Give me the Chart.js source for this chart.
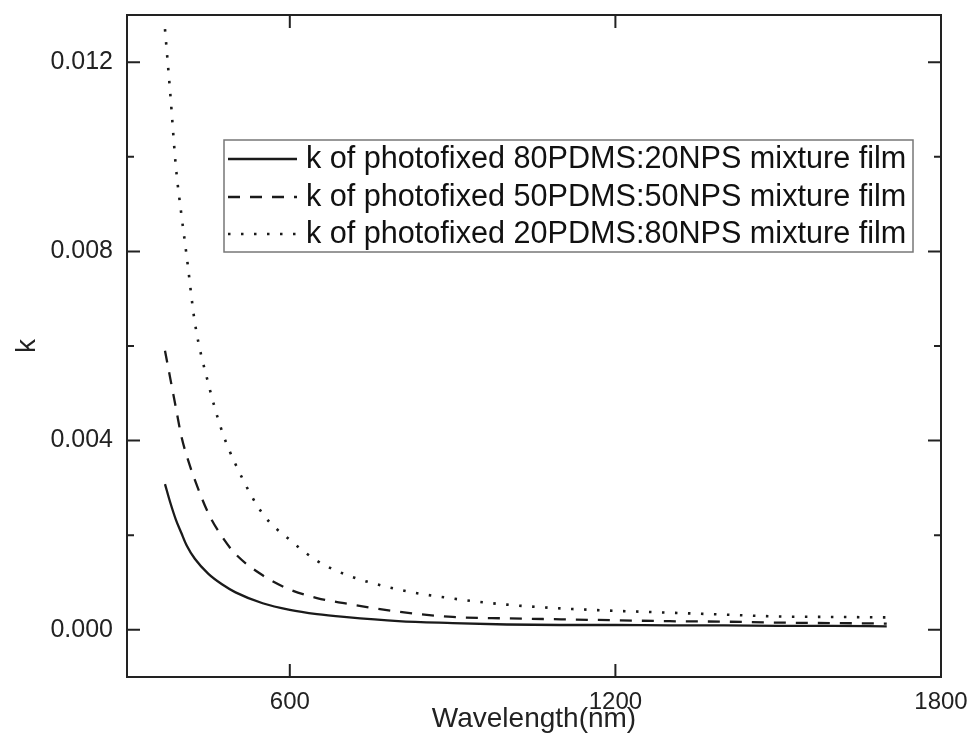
<!DOCTYPE html>
<html>
<head>
<meta charset="utf-8">
<script src="https://cdn.jsdelivr.net/npm/chart.js@4.4.0/dist/chart.umd.min.js"></script>
<style>
html, body { margin: 0; padding: 0; background: #fff; }
</style>
</head>
<body>
<canvas id="kChart" width="974" height="746"></canvas>
<script>
// wavelength (nm) and extinction coefficient k
const wavelengths = [370, 380, 390, 400, 410, 425, 450, 475, 500, 550, 600, 650, 700, 800, 900, 1000, 1100, 1200, 1300, 1400, 1500, 1600, 1700];
const k80 = [0.00308, 0.00268, 0.00233, 0.00205, 0.00178, 0.00150, 0.00118, 0.00096, 0.00079, 0.00056, 0.00042, 0.00033, 0.00027, 0.00018, 0.00014, 0.00011, 0.00010, 0.00010, 0.00009, 0.00009, 0.00008, 0.00008, 0.00007];
const k50 = [0.0059, 0.0053, 0.0047, 0.0041, 0.00368, 0.00317, 0.00246, 0.00197, 0.0016, 0.00115, 0.00085, 0.00067, 0.00056, 0.00038, 0.00027, 0.00024, 0.00022, 0.00020, 0.00018, 0.00017, 0.00015, 0.00014, 0.00013];
const k20 = [0.0127, 0.0113, 0.0098, 0.0088, 0.0079, 0.0065, 0.0052, 0.0042, 0.0035, 0.00245, 0.0019, 0.00146, 0.00118, 0.00085, 0.00066, 0.00053, 0.00045, 0.00040, 0.00036, 0.00032, 0.00028, 0.00027, 0.00026];

const seriesLabels = [
    'k of photofixed 80PDMS:20NPS mixture film',
    'k of photofixed 50PDMS:50NPS mixture film',
    'k of photofixed 20PDMS:80NPS mixture film'
];
const xTicks = [600, 1200, 1800];
const yMajorTicks = [0, 0.004, 0.008, 0.012];
const yMinorTicks = [0.002, 0.006, 0.010];

const FONT = '"Liberation Sans", Arial, Helvetica, sans-serif';

function toPoints(ys) {
    return wavelengths.map((w, i) => ({ x: w, y: ys[i] }));
}

// frame, inward ticks and the boxed legend inside the plot
const frameAndLegend = {
    id: 'frameAndLegend',
    afterDatasetsDraw(chart) {
        const { ctx, chartArea: a, scales: { x, y } } = chart;
        ctx.save();
        ctx.strokeStyle = '#222';
        ctx.lineWidth = 2;
        ctx.strokeRect(a.left, a.top, a.right - a.left, a.bottom - a.top);
        ctx.beginPath();
        xTicks.forEach(v => {
            const px = x.getPixelForValue(v);
            ctx.moveTo(px, a.bottom); ctx.lineTo(px, a.bottom - 13);
            ctx.moveTo(px, a.top); ctx.lineTo(px, a.top + 13);
        });
        yMajorTicks.forEach(v => {
            const py = y.getPixelForValue(v);
            ctx.moveTo(a.left, py); ctx.lineTo(a.left + 13, py);
            ctx.moveTo(a.right, py); ctx.lineTo(a.right - 13, py);
        });
        yMinorTicks.forEach(v => {
            const py = y.getPixelForValue(v);
            ctx.moveTo(a.left, py); ctx.lineTo(a.left + 7, py);
            ctx.moveTo(a.right, py); ctx.lineTo(a.right - 7, py);
        });
        ctx.stroke();

        // legend
        const bx = 224, by = 140, bw = 689, bh = 112;
        ctx.fillStyle = '#fff';
        ctx.fillRect(bx, by, bw, bh);
        ctx.strokeStyle = '#777';
        ctx.lineWidth = 1.5;
        ctx.strokeRect(bx, by, bw, bh);
        const rows = [159, 197, 234];
        chart.data.datasets.forEach((ds, i) => {
            ctx.strokeStyle = ds.borderColor;
            ctx.lineWidth = ds.borderWidth;
            ctx.setLineDash(ds.borderDash || []);
            ctx.beginPath();
            ctx.moveTo(228, rows[i]);
            ctx.lineTo(297, rows[i]);
            ctx.stroke();
            ctx.setLineDash([]);
            ctx.fillStyle = '#111';
            ctx.font = '30.6px ' + FONT;
            ctx.textBaseline = 'middle';
            ctx.textAlign = 'left';
            ctx.fillText(ds.label, 306, rows[i] + 1);
        });
        ctx.restore();
    }
};

new Chart(document.getElementById('kChart'), {
    type: 'line',
    data: {
        datasets: [{
            label: seriesLabels[0],
            data: toPoints(k80),
            borderColor: '#1a1a1a',
            borderWidth: 2.3
        }, {
            label: seriesLabels[1],
            data: toPoints(k50),
            borderColor: '#1a1a1a',
            borderWidth: 2.3,
            borderDash: [12, 10]
        }, {
            label: seriesLabels[2],
            data: toPoints(k20),
            borderColor: '#1a1a1a',
            borderWidth: 2.6,
            borderDash: [2.5, 10.5]
        }]
    },
    options: {
        responsive: false,
        animation: false,
        devicePixelRatio: 1,
        layout: { padding: { top: 15, right: 33, left: 0, bottom: 0 } },
        elements: {
            point: { radius: 0 },
            line: { cubicInterpolationMode: 'monotone', fill: false }
        },
        plugins: {
            legend: { display: false },
            tooltip: { enabled: false }
        },
        scales: {
            x: {
                type: 'linear',
                min: 300,
                max: 1800,
                grid: { display: false },
                border: { display: false },
                afterBuildTicks: scale => { scale.ticks = xTicks.map(v => ({ value: v })); },
                afterFit: scale => { scale.height = 69; scale.paddingLeft = 0; scale.paddingRight = 0; },
                ticks: {
                    maxRotation: 0,
                    padding: 3,
                    color: '#222',
                    font: { family: FONT, size: 24 },
                    callback: v => String(v)
                },
                title: {
                    display: true,
                    text: 'Wavelength(nm)',
                    color: '#222',
                    font: { family: FONT, size: 28 },
                    padding: { top: 0, bottom: 10 }
                }
            },
            y: {
                type: 'linear',
                min: -0.001,
                max: 0.013,
                grid: { display: false },
                border: { display: false },
                afterBuildTicks: scale => { scale.ticks = yMajorTicks.map(v => ({ value: v })); },
                afterFit: scale => { scale.width = 127; scale.paddingTop = 0; scale.paddingBottom = 0; },
                ticks: {
                    padding: 6,
                    color: '#222',
                    font: { family: FONT, size: 25 },
                    callback: v => v.toFixed(3)
                },
                title: {
                    display: true,
                    text: 'k',
                    color: '#222',
                    font: { family: FONT, size: 28 },
                    padding: { top: 10, bottom: 0 }
                }
            }
        }
    },
    plugins: [frameAndLegend]
});
</script>
</body>
</html>
